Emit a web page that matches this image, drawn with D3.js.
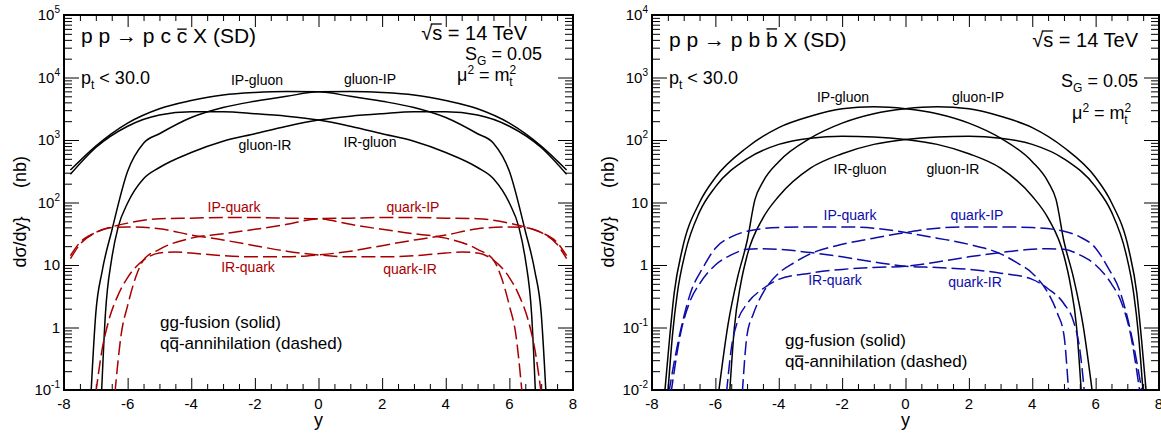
<!DOCTYPE html>
<html>
<head>
<meta charset="utf-8">
<script src="https://cdn.jsdelivr.net/npm/d3@7"></script>
<style>
body{margin:0;background:#fff}
text{font-family:"Liberation Sans",Arial,Helvetica,sans-serif;fill:#000}
</style>
</head>
<body>
<svg id="chart" width="1161" height="434"></svg>
<script>
// ---- data: p p -> p c cbar X (left panel), values in nb ----
const ccIPgluonY = [-7.8,-7,-6,-5,-4,-3,-2,-1,0,1,2,3,4,5,5.5,6,6.5,6.8,7.0,7.15];
const ccIPgluon  = [330,800,1860,3160,4270,5250,5750,5960,5890,5010,4170,3310,2290,1260,890,316,35,8,1.7,0.09];
const ccGluonIPY = [-7.15,-7.0,-6.8,-6.5,-6,-5.5,-5,-4,-3,-2,-1,0,1,2,3,4,5,6,7,7.8];
const ccGluonIP  = [0.09,1.7,8,35,316,890,1260,2290,3310,4170,5010,5890,5960,5750,5250,4270,3160,1860,800,330];
const ccIRgluonY = [-7.8,-7,-6,-5,-4,-3,-2,-1,0,1,2,3,4,5,5.5,6,6.3,6.5,6.7,6.82];
const ccIRgluon  = [282,759,1660,2510,2820,2820,2630,2400,2090,1660,1260,955,631,363,240,98,40,12.6,1.6,0.089];
const ccGluonIRY = [-6.82,-6.7,-6.5,-6.3,-6,-5.5,-5,-4,-3,-2,-1,0,1,2,3,4,5,6,7,7.8];
const ccGluonIR  = [0.089,1.6,12.6,40,98,240,363,631,955,1260,1660,2090,2400,2630,2820,2820,2510,1660,759,282];
const ccIPquarkY = [-7.8,-7.5,-7,-6.5,-6,-5,-4,-3,-2,-1,0,1,2,3,4,5,5.5,5.75,6,6.2,6.4];
const ccIPquark  = [12.6,21.4,33.1,40.7,46.8,55,56.2,57.5,57.5,56.2,55,44.7,37.2,31.6,26.9,17.8,12,6.3,2.24,0.79,0.089];
const ccQuarkIPY = [-6.4,-6.2,-6,-5.75,-5.5,-5,-4,-3,-2,-1,0,1,2,3,4,5,6,6.5,7,7.5,7.8];
const ccQuarkIP  = [0.089,0.79,2.24,6.3,12,17.8,26.9,31.6,37.2,44.7,55,56.2,57.5,57.5,56.2,55,46.8,40.7,33.1,21.4,12.6];
const ccQuarkIRY = [-7.8,-7.5,-7,-6.5,-6,-5,-4,-3,-2,-1,0,1,2,3,4,4.5,5,5.5,6,6.3,6.6,6.8,7.0];
const ccQuarkIR  = [14.1,22.9,33.1,39.8,40.7,38,30.2,25.1,20.4,16.6,14.5,13.5,13.5,14.1,15.5,16.2,15.5,12,6.3,3.3,1.26,0.45,0.089];
const ccIRquarkY = [-7.0,-6.8,-6.6,-6.3,-6,-5.5,-5,-4.5,-4,-3,-2,-1,0,1,2,3,4,5,6,6.5,7,7.5,7.8];
const ccIRquark  = [0.089,0.45,1.26,3.3,6.3,12,15.5,16.2,15.5,14.1,13.5,13.5,14.5,16.6,20.4,25.1,30.2,38,40.7,39.8,33.1,22.9,14.1];

// ---- data: p p -> p b bbar X (right panel), values in nb ----
const bbIPgluonY = [-7.6,-7.45,-7.3,-7.05,-6.5,-6,-5,-4,-3,-2,-1,0,1,2,3,4,4.5,4.75,5,5.3,5.6,5.9];
const bbIPgluon  = [0.0089,0.063,0.355,1.74,10,25.1,75.9,158,240,316,339,316,263,186,107,45,21.4,11.2,2.4,0.63,0.112,0.0089];
const bbGluonIPY = [-5.9,-5.6,-5.3,-5,-4.75,-4.5,-4,-3,-2,-1,0,1,2,3,4,5,6,6.5,7.05,7.3,7.45,7.6];
const bbGluonIP  = [0.0089,0.112,0.63,2.4,11.2,21.4,45,107,186,263,316,339,316,240,158,75.9,25.1,10,1.74,0.355,0.063,0.0089];
const bbIRgluonY = [-5.55,-5.4,-5.2,-5,-4.5,-4,-3,-2,-1,0,1,2,3,4,5,6,6.5,6.95,7.2,7.35,7.5];
const bbIRgluon  = [0.0089,0.1,0.5,1.41,5.62,12.6,35.5,60.3,85.1,102,112,115,107,85.1,50.1,17.8,7.08,1.58,0.355,0.079,0.0089];
const bbGluonIRY = [-7.5,-7.35,-7.2,-6.95,-6.5,-6,-5,-4,-3,-2,-1,0,1,2,3,4,4.5,5,5.2,5.4,5.55];
const bbGluonIR  = [0.0089,0.079,0.355,1.58,7.08,17.8,50.1,85.1,107,115,112,102,85.1,60.3,35.5,12.6,5.62,1.41,0.5,0.1,0.0089];
const bbIPquarkY = [-7.47,-7.3,-7.1,-6.75,-6.4,-6,-5.5,-5,-4,-3,-2,-1,0,1,2,3,3.5,4,4.5,4.8,5.0,5.15];
const bbIPquark  = [0.0089,0.028,0.089,0.4,0.89,1.86,2.82,3.47,3.98,4.07,4.07,3.89,3.31,2.69,2.14,1.51,1.1,0.74,0.355,0.166,0.076,0.0089];
const bbQuarkIPY = [-5.15,-5.0,-4.8,-4.5,-4,-3.5,-3,-2,-1,0,1,2,3,4,5,5.5,6,6.4,6.75,7.1,7.3,7.47];
const bbQuarkIP  = [0.0089,0.076,0.166,0.355,0.74,1.1,1.51,2.14,2.69,3.31,3.89,4.07,4.07,3.98,3.47,2.82,1.86,0.89,0.4,0.089,0.028,0.0089];
const bbIRquarkY = [-5.65,-5.5,-5.3,-5,-4.5,-4,-3,-2,-1,0,1,2,3,4,4.5,5,5.5,6,6.5,6.8,7.1,7.4];
const bbIRquark  = [0.0089,0.045,0.126,0.24,0.417,0.589,0.741,0.851,0.912,0.955,1.12,1.35,1.58,1.78,1.82,1.78,1.45,1.0,0.5,0.263,0.079,0.0089];
const bbQuarkIRY = [-7.4,-7.1,-6.8,-6.5,-6,-5.5,-5,-4.5,-4,-3,-2,-1,0,1,2,3,4,4.5,5,5.3,5.5,5.65];
const bbQuarkIR  = [0.0089,0.079,0.263,0.5,1.0,1.45,1.78,1.82,1.78,1.58,1.35,1.12,0.955,0.912,0.851,0.741,0.589,0.417,0.24,0.126,0.045,0.0089];

const xMajor = [-8,-6,-4,-2,0,2,4,6,8];
const ccDecades = [0.1,1,10,100,1000,10000,100000];
const ccDecadeLabels = [["10","-1"],["1",""],["10",""],["10","2"],["10","3"],["10","4"],["10","5"]];
const bbDecades = [0.01,0.1,1,10,100,1000,10000];
const bbDecadeLabels = [["10","-2"],["10","-1"],["1",""],["10",""],["10","2"],["10","3"],["10","4"]];

const RED = "#a80000", BLUE = "#0c0ca8";
const zip = (xs, vs) => xs.map((v, i) => [v, vs[i]]);

const svg = d3.select("#chart");

// draw a bar over character idx of a text element (from its rendered extent)
function overline(g, t, idx, rise, fromEnd) {
    const node = t.node();
    const e = node.getExtentOfChar(idx);
    const fs = parseFloat(t.style("font-size"));
    const yy = +t.attr("y") - rise * fs;
    let xa = e.x + 0.5, xb = e.x + e.width - 0.5;
    if (fromEnd) {
        const e0 = node.getExtentOfChar(idx - 1);
        xa = e0.x + e0.width - 1.5;
    }
    g.append("line").attr("x1", xa).attr("x2", xb).attr("y1", yy).attr("y2", yy)
        .attr("stroke", "#000").attr("stroke-width", 1.3);
}

function drawPanel(p) {
    const x = d3.scaleLinear().domain([-8, 8]).range([p.x0, p.x1]);
    const y = d3.scaleLog().domain(p.yDomain).range([390, 15]);
    const g = svg.append("g");

    g.append("clipPath").attr("id", "clip" + p.id)
        .append("rect").attr("x", p.x0).attr("y", 15).attr("width", p.x1 - p.x0).attr("height", 375);

    // ticks (inward, on all four sides)
    const minorX = d3.range(-8, 8.001, 0.5).filter(v => xMajor.indexOf(v) < 0);
    const minorY = y.ticks().filter(v => p.decades.indexOf(v) < 0);
    const tickSets = [
        [d3.axisBottom(x).tickValues(xMajor).tickSize(-12), "translate(0,390)"],
        [d3.axisBottom(x).tickValues(minorX).tickSize(-6), "translate(0,390)"],
        [d3.axisTop(x).tickValues(xMajor).tickSize(-12), "translate(0,15)"],
        [d3.axisTop(x).tickValues(minorX).tickSize(-6), "translate(0,15)"],
        [d3.axisLeft(y).tickValues(p.decades).tickSize(-15), `translate(${p.x0},0)`],
        [d3.axisLeft(y).tickValues(minorY).tickSize(-8), `translate(${p.x0},0)`],
        [d3.axisRight(y).tickValues(p.decades).tickSize(-15), `translate(${p.x1},0)`],
        [d3.axisRight(y).tickValues(minorY).tickSize(-8), `translate(${p.x1},0)`]
    ];
    tickSets.forEach(([ax, tr]) => {
        const a = g.append("g").attr("transform", tr).call(ax.tickFormat(""));
        a.select(".domain").remove();
        a.selectAll("line").attr("stroke", "#000").attr("stroke-width", 1);
    });

    // x tick labels
    g.selectAll(".xl").data(xMajor).join("text")
        .attr("x", d => x(d)).attr("y", 409)
        .attr("text-anchor", "middle").style("font-size", "15px")
        .text(d => d);

    // y tick labels with superscripts
    p.decades.forEach((d, i) => {
        const [base, sup] = p.decadeLabels[i];
        const t = g.append("text").attr("x", p.x0 - 4).attr("y", y(d) + 5)
            .attr("text-anchor", "end").style("font-size", "15px");
        t.append("tspan").text(base);
        if (sup) t.append("tspan").attr("dy", -7).style("font-size", "10px").text(sup);
    });

    // frame
    g.append("rect").attr("x", p.x0).attr("y", 15).attr("width", p.x1 - p.x0).attr("height", 375)
        .attr("fill", "none").attr("stroke", "#000").attr("stroke-width", 2);

    // curves
    const line = d3.line().x(d => x(d[0])).y(d => y(d[1])).curve(d3.curveMonotoneX);
    const curves = g.append("g").attr("clip-path", `url(#clip${p.id})`);
    p.series.forEach(s => {
        curves.append("path").attr("d", line(s.pts))
            .attr("fill", "none").attr("stroke", s.color)
            .attr("stroke-width", 1.5)
            .attr("stroke-dasharray", s.dash ? "14,5" : null);
    });

    // curve labels
    p.labels.forEach(l => {
        g.append("text").attr("x", l.x).attr("y", l.y).attr("text-anchor", "middle")
            .style("font-size", "14px").style("fill", l.color).text(l.t);
    });

    // axis titles
    const yt = g.append("g").attr("transform", `translate(${p.x0 - 38},0) rotate(-90)`);
    yt.append("text").attr("x", -242).attr("y", 0).attr("text-anchor", "middle")
        .style("font-size", "18px").text("dσ/dy}");
    yt.append("text").attr("x", -172).attr("y", 0).attr("text-anchor", "middle")
        .style("font-size", "18px").text("(nb)");
    g.append("text").attr("x", x(0)).attr("y", 426).attr("text-anchor", "middle")
        .style("font-size", "18px").text("y");

    // annotations
    const title = g.append("text").attr("x", p.x0 + 17).attr("y", p.titleY).style("font-size", "21px")
        .text("p p → p " + p.quark + " " + p.quark + " X (SD)");
    overline(g, title, 10, p.quark === "b" ? 0.86 : 0.66);

    const pt = g.append("text").attr("x", p.x0 + 17).attr("y", 84).style("font-size", "18px");
    pt.append("tspan").text("p");
    pt.append("tspan").attr("dy", 5).style("font-size", "12px").text("t");
    pt.append("tspan").attr("dy", -5).text(" < 30.0");

    const rs = g.append("text").attr("x", p.sX).attr("y", p.sY).attr("text-anchor", "end")
        .style("font-size", "20px").text("√s = 14 TeV");
    overline(g, rs, 1, 0.8, true);

    const sg = g.append("text").attr("x", p.sgX).attr("y", p.sgY).attr("text-anchor", "end").style("font-size", "18px");
    sg.append("tspan").text("S");
    sg.append("tspan").attr("dy", 5).style("font-size", "12px").text("G");
    sg.append("tspan").attr("dy", -5).text(" = 0.05");

    const mu = g.append("text").attr("x", p.muX).attr("y", p.muY).style("font-size", "18px");
    mu.append("tspan").text("μ");
    mu.append("tspan").attr("dy", -7).style("font-size", "12px").text("2");
    mu.append("tspan").attr("dy", 7).text(" = m");
    mu.append("tspan").attr("dy", -7).style("font-size", "12px").text("2");
    mu.append("tspan").attr("dx", -7).attr("dy", 12).style("font-size", "12px").text("t");

    g.append("text").attr("x", p.legX).attr("y", p.legY).style("font-size", "17px")
        .text("gg-fusion (solid)");
    const l2 = g.append("text").attr("x", p.legX).attr("y", p.legY + 21).style("font-size", "17px")
        .text("qq-annihilation (dashed)");
    overline(g, l2, 1, 0.64);
}

drawPanel({
    id: "cc", x0: 64, x1: 573, yDomain: [0.1, 1e5],
    decades: ccDecades, decadeLabels: ccDecadeLabels,
    quark: "c", titleY: 43, sX: 527, sY: 40, sgX: 542, sgY: 60, muX: 457, muY: 81,
    legX: 160, legY: 328,
    series: [
        {pts: zip(ccIPgluonY, ccIPgluon), color: "#000"},
        {pts: zip(ccGluonIPY, ccGluonIP), color: "#000"},
        {pts: zip(ccIRgluonY, ccIRgluon), color: "#000"},
        {pts: zip(ccGluonIRY, ccGluonIR), color: "#000"},
        {pts: zip(ccIPquarkY, ccIPquark), color: RED, dash: true},
        {pts: zip(ccQuarkIPY, ccQuarkIP), color: RED, dash: true},
        {pts: zip(ccIRquarkY, ccIRquark), color: RED, dash: true},
        {pts: zip(ccQuarkIRY, ccQuarkIR), color: RED, dash: true}
    ],
    labels: [
        {t: "IP-gluon", x: 257, y: 85, color: "#000"},
        {t: "gluon-IP", x: 370, y: 84, color: "#000"},
        {t: "gluon-IR", x: 265, y: 150, color: "#000"},
        {t: "IR-gluon", x: 370, y: 147, color: "#000"},
        {t: "IP-quark", x: 234, y: 212, color: RED},
        {t: "quark-IP", x: 413, y: 212, color: RED},
        {t: "IR-quark", x: 248, y: 272, color: RED},
        {t: "quark-IR", x: 410, y: 274, color: RED}
    ]
});

drawPanel({
    id: "bb", x0: 652, x1: 1159, yDomain: [0.01, 1e4],
    decades: bbDecades, decadeLabels: bbDecadeLabels,
    quark: "b", titleY: 47, sX: 1138, sY: 47, sgX: 1138, sgY: 87, muX: 1072, muY: 119,
    legX: 785, legY: 346,
    series: [
        {pts: zip(bbIPgluonY, bbIPgluon), color: "#000"},
        {pts: zip(bbGluonIPY, bbGluonIP), color: "#000"},
        {pts: zip(bbIRgluonY, bbIRgluon), color: "#000"},
        {pts: zip(bbGluonIRY, bbGluonIR), color: "#000"},
        {pts: zip(bbIPquarkY, bbIPquark), color: BLUE, dash: true},
        {pts: zip(bbQuarkIPY, bbQuarkIP), color: BLUE, dash: true},
        {pts: zip(bbIRquarkY, bbIRquark), color: BLUE, dash: true},
        {pts: zip(bbQuarkIRY, bbQuarkIR), color: BLUE, dash: true}
    ],
    labels: [
        {t: "IP-gluon", x: 843, y: 102, color: "#000"},
        {t: "gluon-IP", x: 978, y: 102, color: "#000"},
        {t: "IR-gluon", x: 860, y: 174, color: "#000"},
        {t: "gluon-IR", x: 953, y: 174, color: "#000"},
        {t: "IP-quark", x: 850, y: 220, color: BLUE},
        {t: "quark-IP", x: 977, y: 220, color: BLUE},
        {t: "IR-quark", x: 835, y: 285, color: BLUE},
        {t: "quark-IR", x: 975, y: 287, color: BLUE}
    ]
});
</script>
</body>
</html>
